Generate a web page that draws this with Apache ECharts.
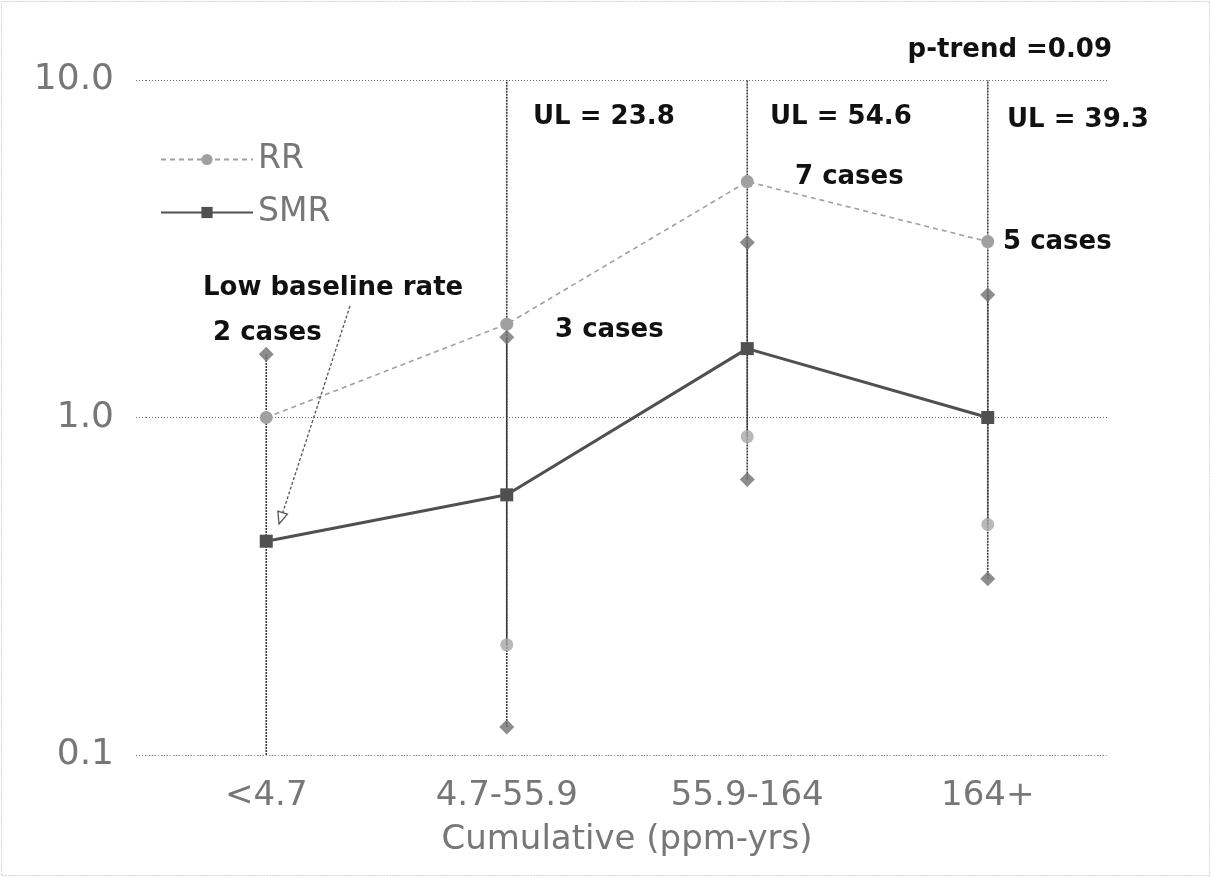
<!DOCTYPE html>
<html>
<head>
<meta charset="utf-8">
<script src="https://cdn.jsdelivr.net/npm/echarts@6/dist/echarts.min.js"></script>
<style>html,body{margin:0;padding:0;background:#fff}#c{width:1211px;height:877px}</style>
</head>
<body>
<div id="c"></div>
<script>
const categories = ['<4.7', '4.7-55.9', '55.9-164', '164+'];
const rrValues = [1.0, 1.89, 5.0, 3.32];
const smrValues = [0.43, 0.59, 1.6, 1.0];
const smrLower = [0.07, 0.121, 0.655, 0.333];
const smrUpper = [1.54, 1.73, 3.3, 2.31];
const rrLower = [null, 0.212, 0.878, 0.482];
const rrUpper = [null, 23.8, 54.6, 39.3];
const yTicks = [0.1, 1, 10];

const chart = echarts.init(document.getElementById('c'));

const ciData = [];
categories.forEach((c, i) => {
  ciData.push([i, smrLower[i], smrUpper[i]]);
  if (rrLower[i] != null) ciData.push([i, rrLower[i], rrUpper[i]]);
});
const smrEnds = [];
categories.forEach((c, i) => {
  if (smrLower[i] >= yTicks[0]) smrEnds.push([i, smrLower[i]]);
  smrEnds.push([i, smrUpper[i]]);
});
const rrEnds = [];
categories.forEach((c, i) => { if (rrLower[i] != null) rrEnds.push([i, rrLower[i]]); });

const boldFont = 'bold 26px "DejaVu Sans"';
function label(text, x, y, align) {
  return { type: 'text', x: x, y: y, z: 100,
    style: { text: text, font: boldFont, fill: '#111', textAlign: align || 'left', textVerticalAlign: 'middle' } };
}

const option = {
  backgroundColor: '#fff',
  animation: false,
  grid: { left: 146, right: 103, top: 80, bottom: 122 },
  legend: {
    data: ['RR', 'SMR'],
    orient: 'vertical',
    left: 155, top: 138,
    itemWidth: 92, itemHeight: 14, itemGap: 20,
    textStyle: { fontFamily: 'DejaVu Sans', fontSize: 33, color: '#777' }
  },
  xAxis: {
    type: 'category',
    data: categories,
    name: 'Cumulative (ppm-yrs)',
    nameLocation: 'middle',
    nameGap: 68,
    nameTextStyle: { fontFamily: 'DejaVu Sans', fontSize: 34, color: '#777' },
    axisLine: { show: true, lineStyle: { color: '#bbb', type: [1, 3] } },
    axisTick: { show: false },
    axisLabel: { fontFamily: 'DejaVu Sans', fontSize: 34, color: '#777', margin: 24 }
  },
  yAxis: {
    type: 'log',
    logBase: 10,
    min: yTicks[0], max: yTicks[2],
    axisLine: { show: false },
    axisTick: { show: true, length: 11, lineStyle: { color: '#777', type: [1, 2] } },
    splitLine: { show: true, lineStyle: { color: '#666', type: [1, 2] } },
    axisLabel: { fontFamily: 'DejaVu Sans', fontSize: 36, color: '#777', margin: 32,
      formatter: v => Number(v).toFixed(1) }
  },
  series: [
    {
      type: 'custom', name: 'CI', z: 1, silent: true,
      data: ciData,
      renderItem: function (params, api) {
        const cs = params.coordSys;
        const p1 = api.coord([api.value(0), api.value(1)]);
        const p2 = api.coord([api.value(0), api.value(2)]);
        const clamp = v => Math.max(cs.y, Math.min(cs.y + cs.height, v));
        return { type: 'line',
          shape: { x1: p1[0], y1: clamp(p1[1]), x2: p2[0], y2: clamp(p2[1]) },
          style: { stroke: '#3a3a3a', lineWidth: 1.6, lineDash: [2, 1] } };
      }
    },
    {
      type: 'scatter', name: 'SMR CI', z: 3, symbol: 'diamond', symbolSize: 15,
      itemStyle: { color: '#707070' }, data: smrEnds
    },
    {
      type: 'scatter', name: 'RR CI', z: 3, symbol: 'circle', symbolSize: 13,
      itemStyle: { color: '#a8a8a8' }, data: rrEnds
    },
    {
      type: 'line', name: 'RR', z: 4, data: rrValues,
      symbol: 'circle', symbolSize: 13,
      itemStyle: { color: '#a0a0a0' },
      lineStyle: { color: '#a0a0a0', width: 1.6, type: [5, 4] }
    },
    {
      type: 'line', name: 'SMR', z: 5, data: smrValues,
      symbol: 'rect', symbolSize: 13,
      itemStyle: { color: '#505050' },
      lineStyle: { color: '#505050', width: 3 }
    }
  ],
  graphic: [
    { type: 'rect', z: 0, shape: { x: 1.5, y: 1.5, width: 1208, height: 874 },
      style: { fill: 'none', stroke: '#aaa', lineWidth: 1, lineDash: [1, 2] } },
    label('p-trend =0.09', 1112, 50, 'right'),
    label('UL = 23.8', 533, 117),
    label('UL = 54.6', 770, 117),
    label('UL = 39.3', 1007, 120),
    label('7 cases', 795, 177),
    label('5 cases', 1003, 242),
    label('3 cases', 555, 330),
    label('Low baseline rate', 203, 288),
    label('2 cases', 213, 333),
    { type: 'line', z: 50, shape: { x1: 350, y1: 306, x2: 281, y2: 518 },
      style: { stroke: '#555', lineWidth: 1.3, lineDash: [3, 2] } },
    { type: 'polygon', z: 50, shape: { points: [[279, 524], [287.4, 514.1], [277.9, 511.1]] },
      style: { fill: '#fff', stroke: '#555', lineWidth: 1.3 } }
  ]
};
chart.setOption(option);
</script>
</body>
</html>
